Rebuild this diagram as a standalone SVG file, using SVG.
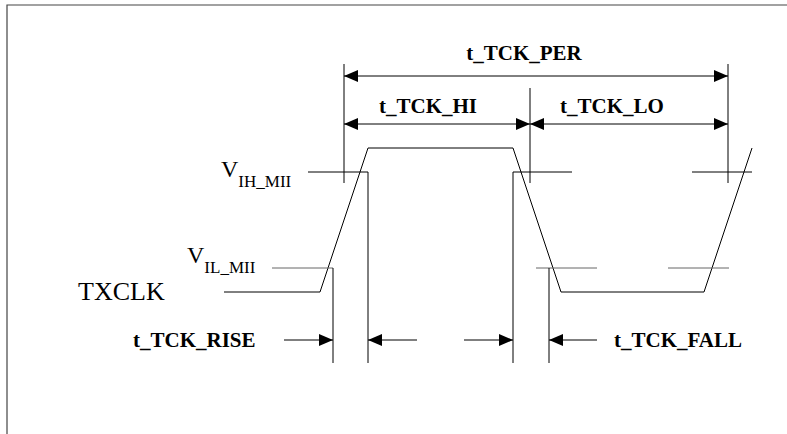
<svg xmlns="http://www.w3.org/2000/svg" width="787" height="434" viewBox="0 0 787 434">
<defs>
<marker id="ah" markerUnits="userSpaceOnUse" markerWidth="15" markerHeight="13" refX="14" refY="6" orient="auto-start-reverse" viewBox="0 0 15 13">
<path d="M0,0 L14,6 L0,12 z" fill="#000"/>
</marker>
<style>
.ln{stroke:#000;stroke-width:1;fill:none}
.gr{stroke:#666;stroke-width:1;fill:none}
.dim{stroke:#000;stroke-width:1;fill:none}
.lbl{font-family:"Liberation Serif","Times New Roman",serif;font-weight:bold;font-size:21px;fill:#000}
.sig{font-family:"Liberation Serif","Times New Roman",serif;fill:#000}
</style>
</defs>
<rect width="787" height="434" fill="#fff"/>
<g id="frame">
<path d="M7,434 V5 H787" stroke="#444" stroke-width="1.2" fill="none"/>
</g>
<g id="waveform">
<polyline class="ln" points="224,292 320,292 368,148 513,148 561,292 704,292 752,148"/>
</g>
<g id="thresholds">
<polyline class="ln" points="308,172 368,172 368,363"/>
<polyline class="ln" points="572,172 513,172 513,363"/>
<line class="ln" x1="692" y1="172" x2="752" y2="172"/>
<line class="gr" x1="272" y1="268" x2="333" y2="268"/>
<line class="ln" x1="333" y1="268" x2="333" y2="363"/>
<line class="gr" x1="536" y1="268" x2="597" y2="268"/>
<line class="ln" x1="549" y1="268" x2="549" y2="363"/>
<line class="gr" x1="668" y1="268" x2="729" y2="268"/>
</g>
<g id="connectors">
<line class="ln" x1="344" y1="64" x2="344" y2="183"/>
<line class="ln" x1="728" y1="64" x2="728" y2="183"/>
<line class="ln" x1="530" y1="88" x2="530" y2="183"/>
<line class="dim" x1="344" y1="76" x2="728" y2="76" marker-start="url(#ah)" marker-end="url(#ah)"/>
<line class="dim" x1="344" y1="124" x2="530" y2="124" marker-start="url(#ah)" marker-end="url(#ah)"/>
<line class="dim" x1="530" y1="124" x2="728" y2="124" marker-start="url(#ah)" marker-end="url(#ah)"/>
<line class="dim" x1="284" y1="340" x2="333" y2="340" marker-end="url(#ah)"/>
<line class="dim" x1="417" y1="340" x2="368" y2="340" marker-end="url(#ah)"/>
<line class="dim" x1="464" y1="340" x2="513" y2="340" marker-end="url(#ah)"/>
<line class="dim" x1="597" y1="340" x2="549" y2="340" marker-end="url(#ah)"/>
</g>
<g id="labels">
<text class="lbl" x="524" y="60" text-anchor="middle">t_TCK_PER</text>
<text class="lbl" x="428" y="113" text-anchor="middle">t_TCK_HI</text>
<text class="lbl" x="612" y="113" text-anchor="middle">t_TCK_LO</text>
<text class="lbl" x="133" y="347">t_TCK_RISE</text>
<text class="lbl" x="614" y="347">t_TCK_FALL</text>
<text class="sig" x="221" y="177" font-size="24">V<tspan font-size="17" dy="10">IH_MII</tspan></text>
<text class="sig" x="187" y="263" font-size="24">V<tspan font-size="17" dy="10">IL_MII</tspan></text>
<text class="sig" x="78" y="300" font-size="26">TXCLK</text>
</g>
</svg>
